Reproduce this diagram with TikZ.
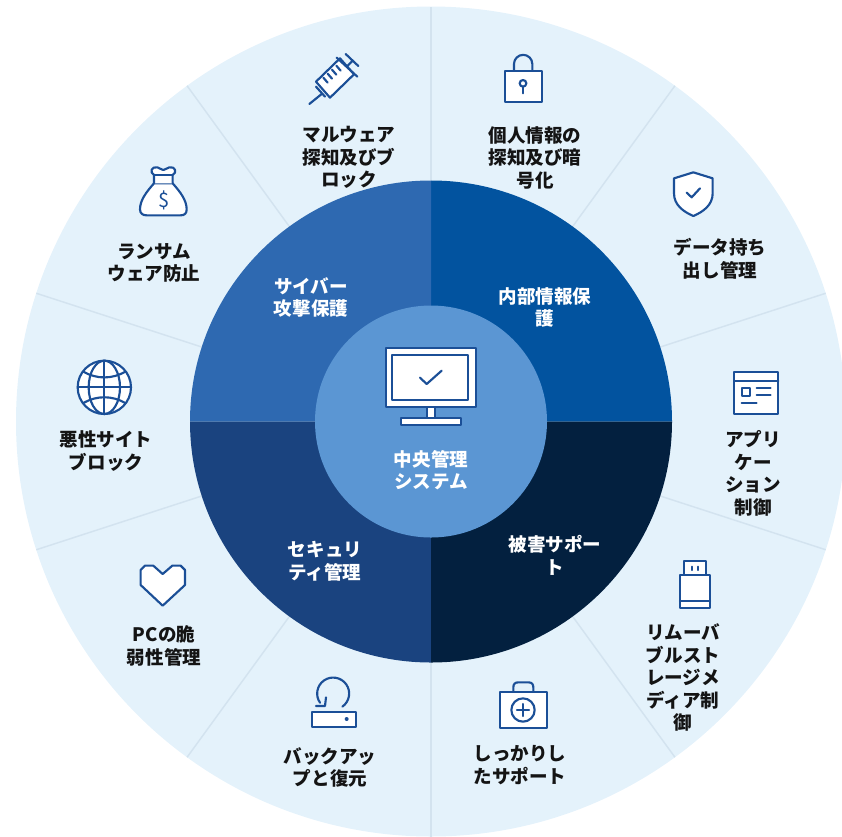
\documentclass[tikz,border=0pt]{standalone}
\usepackage{fontspec}
\newfontfamily\cjk{Noto Sans CJK JP}
\definecolor{ringbg}{HTML}{E4F2FB}
\definecolor{rayc}{HTML}{D3E3EF}
\definecolor{qtr}{HTML}{02539F}
\definecolor{qbr}{HTML}{03203F}
\definecolor{qbl}{HTML}{1A437F}
\definecolor{qtl}{HTML}{2E69B1}
\definecolor{hub}{HTML}{5B96D3}
\definecolor{ico}{HTML}{1B4F97}
\definecolor{ink}{HTML}{141414}
\tikzset{
  ray/.style={draw=rayc,line width=1.1pt},
  lbl/.style={font=\cjk\bfseries\fontsize{13.9}{16.9}\selectfont,align=center,inner sep=0pt,text=ink},
  wlbl/.style={lbl,text=white},
  icon/.style={draw=ico,line width=1.6pt,fill=white,line join=round,line cap=round},
  iline/.style={draw=ico,line width=1.6pt,line cap=round,line join=round},
  z/.style 2 args={shift={(#1,#2)},x=0.25pt,y=-0.25pt}
}
\begin{document}
\begin{tikzpicture}[x=0.75pt,y=-0.75pt]
\useasboundingbox (0,0) rectangle (842,836);
\clip (0,0) rectangle (842,836);
\coordinate (c) at (431,421.5);
\fill[ringbg] (c) circle[radius=415];
\foreach \a in {18,54,90,126,162,198,234,270,306,342}{\draw[ray] (c) -- ++(\a:415);}
\fill[qtr] (c) -- ++(241,0) arc[start angle=0,end angle=-90,radius=241] -- cycle;
\fill[qtl] (c) -- ++(0,-241) arc[start angle=-90,end angle=-180,radius=241] -- cycle;
\fill[qbl] (c) -- ++(-241,0) arc[start angle=180,end angle=90,radius=241] -- cycle;
\fill[qbr] (c) -- ++(0,241) arc[start angle=90,end angle=0,radius=241] -- cycle;
\fill[hub] (c) circle[radius=116];

% syringe
\begin{scope}[z={280}{30}]
\draw[icon] (180,85) -- (222,133) -- (150,203) -- (108,155) -- cycle;
\draw[iline] (88,222) -- (125,192) (108,170) -- (135,200);
\draw[iline] (170,83) -- (232,140) (200,110) -- (218,92) (197,72) -- (235,108);
\draw[iline] (130,143) -- (143,158) (143,131) -- (156,146) (156,119) -- (169,134) (169,107) -- (182,122);
\end{scope}
% lock
\begin{scope}[z={280}{30}]
\draw[iline] (702,123) -- (702,102) arc[start angle=180,end angle=360,radius=27.5] -- (757,123);
\draw[icon] (675,123) rectangle (785,215);
\draw[iline] (729,170) -- (729,190);
\draw[iline] (729,160) circle[radius=10];
\end{scope}
% shield
\begin{scope}[z={640}{160}]
\draw[icon] (160,37) -- (218,55) -- (218,100) .. controls (218,135) and (190,155) .. (160,168) .. controls (130,155) and (102,135) .. (102,100) -- (102,55) -- cycle;
\draw[iline] (140,98) -- (155,112) -- (180,85);
\end{scope}
% app window
\begin{scope}[z={640}{160}]
\draw[icon] (283,637) rectangle (415,762);
\draw[iline] (283,662) -- (415,662);
\draw[iline] (305,683) rectangle (330,708);
\draw[iline] (350,685) -- (392,685) (350,706) -- (392,706) (305,730) -- (350,730);
\end{scope}
% usb
\begin{scope}[z={640}{540}]
\draw[icon] (133,62) rectangle (197,105);
\draw[iline] (155,80) -- (155,90) (175,80) -- (175,90);
\draw[icon] (120,105) rectangle (210,205);
\draw[iline] (120,183) -- (210,183);
\end{scope}
% briefcase
\begin{scope}[z={280}{660}]
\draw[iline] (700,95) -- (700,82) .. controls (700,72) and (705,67) .. (715,67) -- (745,67) .. controls (755,67) and (760,72) .. (760,82) -- (760,95);
\draw[icon] (660,95) rectangle (800,205);
\draw[iline] (729,150) circle[radius=35];
\draw[iline] (711,150) -- (747,150) (729,132) -- (729,168);
\end{scope}
% backup
\begin{scope}[z={280}{660}]
\draw[iline] (187,140) arc[start angle=55,end angle=-215,radius=48];
\draw[iline] (108,138) -- (135,138) -- (138,112);
\draw[icon] (95,155) rectangle (228,200);
\fill[ico] (200,177) circle[radius=6];
\end{scope}
% heart
\begin{scope}[z={110}{550}]
\draw[icon] (158,72) -- (130,47) -- (105,47) -- (92,60) -- (92,105) -- (158,167) -- (225,105) -- (225,60) -- (212,47) -- (187,47) -- cycle;
\end{scope}
% globe
\begin{scope}[z={50}{150}]
\draw[icon] (163,712) circle[radius=80];
\draw[iline] (163,712) ellipse[x radius=47,y radius=80];
\draw[iline] (163,632) -- (163,792) (83,712) -- (243,712);
\draw[iline] (100,665) .. controls (140,688) and (186,688) .. (226,665);
\draw[iline] (100,759) .. controls (140,736) and (186,736) .. (226,759);
\end{scope}
% money bag
\begin{scope}[z={50}{150}]
\draw[icon] (312,100) .. controls (290,125) and (270,150) .. (270,178) .. controls (270,190) and (278,196) .. (290,196) -- (392,196) .. controls (404,196) and (410,190) .. (410,178) .. controls (410,150) and (390,125) .. (368,100) -- cycle;
\draw[icon] (312,100) -- (312,75) .. controls (298,68) and (304,48) .. (322,52) .. controls (330,54) and (335,60) .. (340,60) .. controls (345,60) and (350,54) .. (358,52) .. controls (376,48) and (382,68) .. (368,75) -- (368,100);
\draw[iline] (312,75) -- (368,75);
\node[inner sep=0pt,text=ico,font=\cjk\fontsize{15}{15}\selectfont] (dollar) at (341,150) {\$};
\end{scope}
% monitor
\begin{scope}[z={340}{330}]
\draw[icon] (262,232) rectangle (284,265);
\draw[icon] (182,265) rectangle (362,284);
\draw[icon] (137,55) rectangle (407,232);
\draw[iline] (157,75) rectangle (385,210);
\draw[iline] (240,143) -- (260,162) -- (305,122);
\end{scope}

\node[lbl] (n1) at (349,157.5) {マルウェア\\探知及びブ\\ロック};
\node[lbl] (n2) at (535,157.5) {個人情報の\\探知及び暗\\号化};
\node[lbl] (n3) at (720,259) {データ持ち\\出し管理};
\node[lbl] (n4) at (753,473.5) {アプリ\\ケー\\ション\\制御};
\node[lbl] (n5) at (683,677.5) {リムーバ\\ブルスト\\レージメ\\ディア制\\御};
\node[lbl] (n6) at (520,765) {しっかりし\\たサポート};
\node[lbl] (n7) at (330,767.5) {バックアッ\\プと復元};
\node[lbl] (n8) at (164,646) {PCの脆\\弱性管理};
\node[lbl] (n9) at (106,451) {悪性サイト\\ブロック};
\node[lbl] (n10) at (154,263) {ランサム\\ウェア防止};
\node[wlbl] (q1) at (311,297.5) {サイバー\\攻撃保護};
\node[wlbl] (q2) at (545,307.5) {内部情報保\\護};
\node[wlbl] (q3) at (325,561.5) {セキュリ\\ティ管理};
\node[wlbl] (q4) at (555,555.5) {被害サポー\\ト};
\node[wlbl] (q5) at (431,470) {中央管理\\システム};
\end{tikzpicture}
\end{document}
